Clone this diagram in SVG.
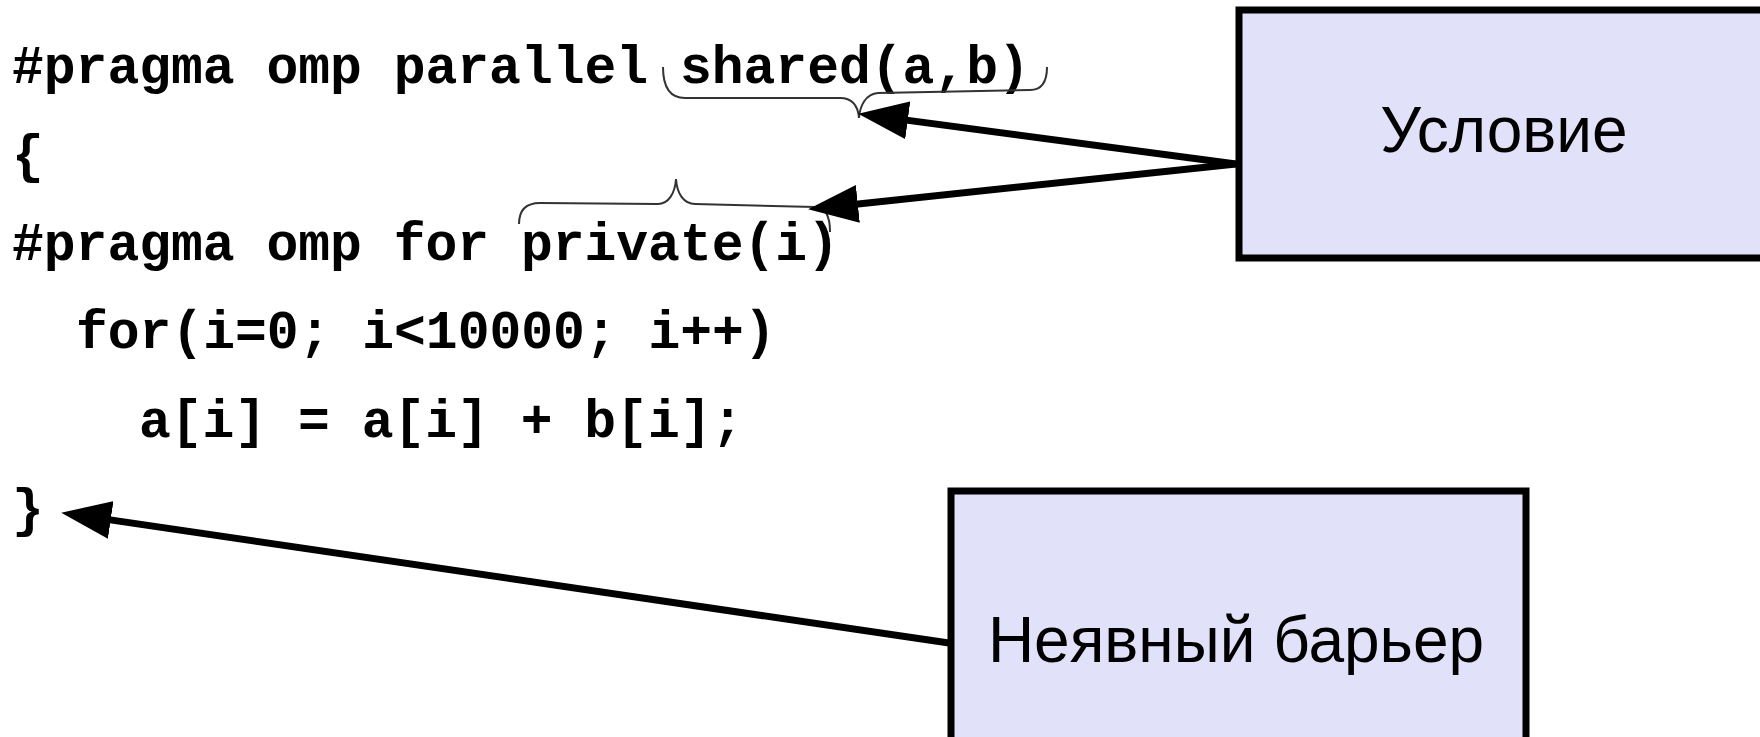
<svg xmlns="http://www.w3.org/2000/svg" width="1760" height="737" viewBox="0 0 1760 737">
  <style>
    .code { font-family: "Liberation Mono", "Courier New", monospace; font-weight: bold; font-size: 53px; fill: #000; }
    .label { font-family: "Liberation Sans", Arial, sans-serif; font-size: 64px; fill: #000; text-anchor: middle; }
    .box { fill: #e1e1f9; stroke: #000; stroke-width: 7; }
    .brace { fill: none; stroke: #333; stroke-width: 2; }
    .arrow { fill: none; stroke: #000; stroke-width: 7; marker-end: url(#head); }
  </style>
  <defs>
    <marker id="head" markerUnits="userSpaceOnUse" markerWidth="50" markerHeight="38" viewBox="0 0 50 38" refX="28" refY="19" orient="auto">
      <path d="M0,0 L50,19 L0,38 Z" fill="#000"/>
    </marker>
  </defs>
  <rect width="1760" height="737" fill="#fff"/>

  <!-- source listing -->
  <g id="code">
    <text class="code" x="12" y="83">#pragma omp parallel shared(a,b)</text>
    <text class="code" x="12" y="172">{</text>
    <text class="code" x="12" y="260">#pragma omp for private(i)</text>
    <text class="code" x="76" y="348">for(i=0; i&lt;10000; i++)</text>
    <text class="code" x="139" y="437">a[i] = a[i] + b[i];</text>
    <text class="code" x="12" y="526">}</text>
  </g>

  <!-- braces marking the clauses -->
  <g id="brace-shared">
    <path class="brace" d="M663,67 C663,84 668,98 685,98 L840,98 C852,98 858,106 859,118 C860,105 866,94 878,93 L1030,90 C1042,90 1047,82 1047,67"/>
  </g>
  <g id="brace-private">
    <path class="brace" d="M519,224 C519,212 524,203 540,203 L658,204 C668,204 675,194 676,179 C677,194 684,204 695,204 L815,207 C826,207 830,216 830,232"/>
  </g>

  <!-- callout boxes -->
  <g id="box-condition">
    <rect class="box" x="1239" y="10" width="600" height="248"/>
    <text class="label" x="1504" y="152">Условие</text>
  </g>
  <g id="box-barrier">
    <rect class="box" x="951" y="491" width="575" height="300"/>
    <text class="label" x="1236" y="662">Неявный барьер</text>
  </g>

  <!-- connectors -->
  <g id="connectors">
    <line class="arrow" x1="1236" y1="164" x2="880" y2="116.6"/>
    <line class="arrow" x1="1236" y1="164" x2="830" y2="206.9"/>
    <line class="arrow" x1="949" y1="643" x2="83" y2="515.9"/>
  </g>
</svg>
